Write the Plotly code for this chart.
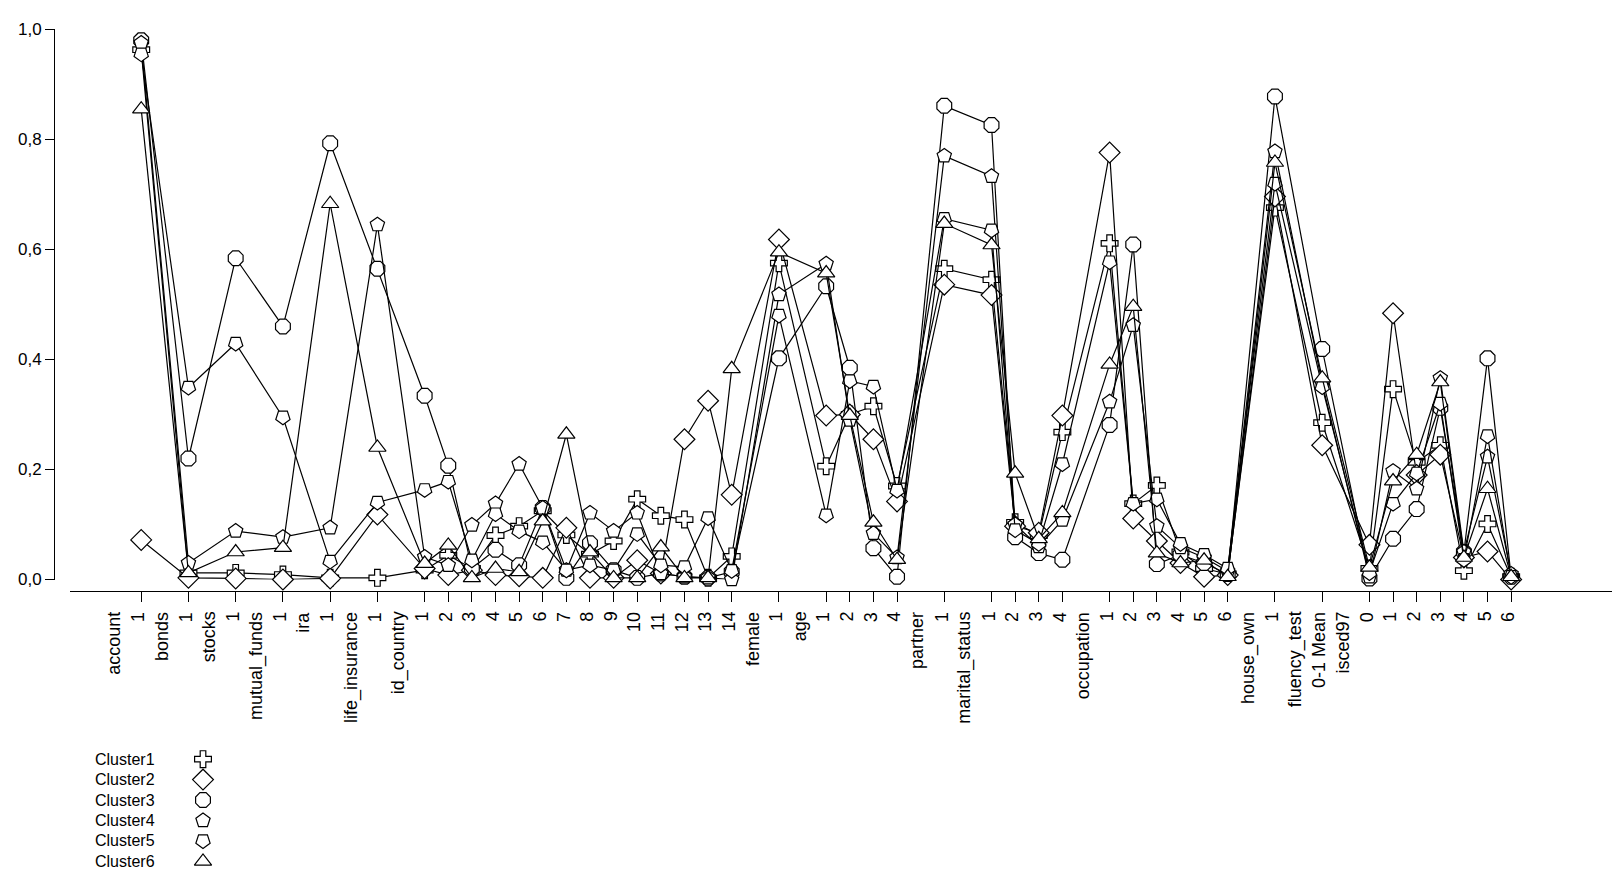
import plotly.graph_objects as go

# ---------------- data ----------------
groups = [
    ("account", ["1"]),
    ("bonds", ["1"]),
    ("stocks", ["1"]),
    ("mutual_funds", ["1"]),
    ("ira", ["1"]),
    ("life_insurance", ["1"]),
    ("id_country", ["1", "2", "3", "4", "5", "6", "7", "8", "9", "10", "11", "12", "13", "14"]),
    ("female", ["1"]),
    ("age", ["1", "2", "3", "4"]),
    ("partner", ["1"]),
    ("marital_status", ["1", "2", "3", "4"]),
    ("occupation", ["1", "2", "3", "4", "5", "6"]),
    ("house_own", ["1"]),
    ("fluency_test", ["0-1 Mean"]),
    ("isced97", ["0", "1", "2", "3", "4", "5", "6"]),
]

cluster_names = ["Cluster1", "Cluster2", "Cluster3", "Cluster4", "Cluster5", "Cluster6"]

cluster1 = [0.963, 0.012, 0.012, 0.009, 0.003, 0.003,
            0.017, 0.044, 0.020, 0.080, 0.097, 0.125, 0.081, 0.046, 0.070, 0.146, 0.116, 0.109, 0.003, 0.042,
            0.575, 0.206, 0.300, 0.315, 0.170, 0.565, 0.545, 0.104, 0.080, 0.268,
            0.611, 0.138, 0.171, 0.050, 0.020, 0.010, 0.676, 0.285,
            0.020, 0.346, 0.213, 0.244, 0.016, 0.101, 0.005]
cluster2 = [0.072, 0.003, 0.002, 0.000, 0.002, 0.118,
            0.020, 0.008, 0.017, 0.008, 0.006, 0.003, 0.094, 0.003, 0.003, 0.035, 0.011, 0.255, 0.325, 0.154,
            0.618, 0.298, 0.300, 0.255, 0.142, 0.536, 0.517, 0.097, 0.085, 0.298,
            0.776, 0.111, 0.070, 0.030, 0.005, 0.008, 0.696, 0.244,
            0.063, 0.484, 0.190, 0.227, 0.040, 0.051, 0.000]
cluster3 = [0.980, 0.220, 0.584, 0.460, 0.793, 0.565,
            0.334, 0.207, 0.020, 0.054, 0.026, 0.130, 0.003, 0.066, 0.017, 0.003, 0.011, 0.005, 0.003, 0.014,
            0.402, 0.533, 0.385, 0.057, 0.005, 0.861, 0.826, 0.077, 0.048, 0.036,
            0.281, 0.609, 0.028, 0.045, 0.030, 0.010, 0.878, 0.419,
            0.002, 0.074, 0.128, 0.312, 0.050, 0.402, 0.005]
cluster4 = [0.975, 0.030, 0.088, 0.077, 0.094, 0.645,
            0.041, 0.026, 0.099, 0.138, 0.210, 0.130, 0.017, 0.121, 0.088, 0.121, 0.011, 0.005, 0.003, 0.000,
            0.518, 0.574, 0.290, 0.084, 0.040, 0.770, 0.733, 0.100, 0.060, 0.108,
            0.323, 0.462, 0.097, 0.058, 0.040, 0.015, 0.778, 0.356,
            0.005, 0.197, 0.165, 0.366, 0.050, 0.223, 0.010]
cluster5 = [0.955, 0.349, 0.429, 0.295, 0.033, 0.140,
            0.163, 0.178, 0.035, 0.119, 0.088, 0.068, 0.017, 0.026, 0.017, 0.083, 0.026, 0.023, 0.112, 0.016,
            0.480, 0.117, 0.361, 0.351, 0.162, 0.656, 0.635, 0.090, 0.065, 0.210,
            0.577, 0.138, 0.146, 0.065, 0.045, 0.020, 0.720, 0.350,
            0.012, 0.138, 0.193, 0.320, 0.036, 0.261, 0.005]
cluster6 = [0.855, 0.012, 0.050, 0.058, 0.683, 0.240,
            0.029, 0.062, 0.003, 0.020, 0.014, 0.106, 0.264, 0.050, 0.003, 0.003, 0.059, 0.003, 0.003, 0.383,
            0.595, 0.557, 0.298, 0.104, 0.036, 0.647, 0.608, 0.193, 0.074, 0.121,
            0.391, 0.496, 0.048, 0.030, 0.035, 0.005, 0.758, 0.366,
            0.022, 0.179, 0.227, 0.359, 0.040, 0.165, 0.005]

y_ticks = [0.0, 0.2, 0.4, 0.6, 0.8, 1.0]

# ---------------- styles ----------------
W, H = 1612, 881
FONT = "Liberation Sans, Arial, sans-serif"
FS = 16          # legend text
FS_X = 18        # rotated category labels
FS_Y = 17        # y tick labels
symbols = ["cross", "diamond", "octagon", "pentagon", "pentagon", "triangle-up"]
angles = [0, 0, 0, 0, 180, 0]
sizes = [14, 16, 16, 15, 15, 15]


def px(xp):
    return xp / W


def py(yp):
    return (H - yp) / H


# build category slots: a header slot for each variable, then one slot per level
tick_text, value_pos = [], []
for name, levels in groups:
    tick_text.append(name)
    for lv in levels:
        value_pos.append(len(tick_text))
        tick_text.append(lv)

series = [cluster1, cluster2, cluster3, cluster4, cluster5, cluster6]

fig = go.Figure()
for name, vals, sym, ang, sz in zip(cluster_names, series, symbols, angles, sizes):
    fig.add_trace(go.Scatter(
        x=value_pos, y=vals, mode="lines+markers", name=name,
        line=dict(color="black", width=1.2),
        marker=dict(symbol=sym, angle=ang, size=sz, color="white",
                    line=dict(color="black", width=1.2)),
        cliponaxis=False, showlegend=False, hoverinfo="x+y",
    ))

# custom legend (text left, symbol right)
LEG_TOP, LEG_STEP, LEG_TEXT_X, LEG_SYM_X = 766.7, 20.9, 93, 203
for i, (name, sym, ang, sz) in enumerate(zip(cluster_names, symbols, angles, sizes)):
    fig.add_trace(go.Scatter(
        x=[LEG_SYM_X], y=[i], mode="markers", xaxis="x3", yaxis="y3",
        marker=dict(symbol=sym, angle=ang, size=sz, color="white",
                    line=dict(color="black", width=1.2)),
        cliponaxis=False, showlegend=False, hoverinfo="skip",
    ))

annotations = []
for i, t in enumerate(tick_text):
    annotations.append(dict(
        x=i, xref="x", y=py(614), yref="paper", text=t, showarrow=False,
        textangle=-90, xanchor="center", yanchor="top", xshift=-3,
        font=dict(family=FONT, size=FS_X, color="black"),
    ))
for i, name in enumerate(cluster_names):
    annotations.append(dict(
        x=px(LEG_TEXT_X), xref="paper", y=py(LEG_TOP + LEG_STEP * i), yref="paper",
        text=name, showarrow=False, xanchor="left", yanchor="middle",
        font=dict(family=FONT, size=FS, color="black"),
    ))

leg_dom_top = 0.14
leg_top_px = H - leg_dom_top * H

fig.update_layout(
    width=W, height=H,
    margin=dict(l=0, r=0, t=0, b=0),
    paper_bgcolor="white", plot_bgcolor="white",
    separators=", ",
    font=dict(family=FONT, size=FS, color="black"),
    showlegend=False,
    xaxis=dict(
        domain=[px(70), 1], range=[-2.015, 63.27],
        anchor="free", position=py(595),
        showline=True, linecolor="black", linewidth=1,
        ticks="outside", ticklen=10, tickwidth=1, tickcolor="black",
        tickmode="array", tickvals=value_pos, showticklabels=False,
        showgrid=False, zeroline=False,
    ),
    yaxis=dict(
        domain=[py(583.1), py(20.8)], range=[0, 1],
        anchor="free", position=px(54),
        showline=True, linecolor="black", linewidth=1,
        ticks="outside", ticklen=9, tickwidth=1, tickcolor="black",
        tickmode="array", tickvals=y_ticks, tickformat=".1f",
        tickfont=dict(family=FONT, size=FS_Y, color="black"),
        showgrid=False, zeroline=False,
    ),
    xaxis3=dict(domain=[0, 0.2], range=[0, 0.2 * W], visible=False, anchor="y3"),
    yaxis3=dict(domain=[0, leg_dom_top],
                range=[(H - LEG_TOP) / LEG_STEP, (leg_top_px - LEG_TOP) / LEG_STEP],
                visible=False, anchor="x3"),
    annotations=annotations,
)

fig.write_html("out.html")
